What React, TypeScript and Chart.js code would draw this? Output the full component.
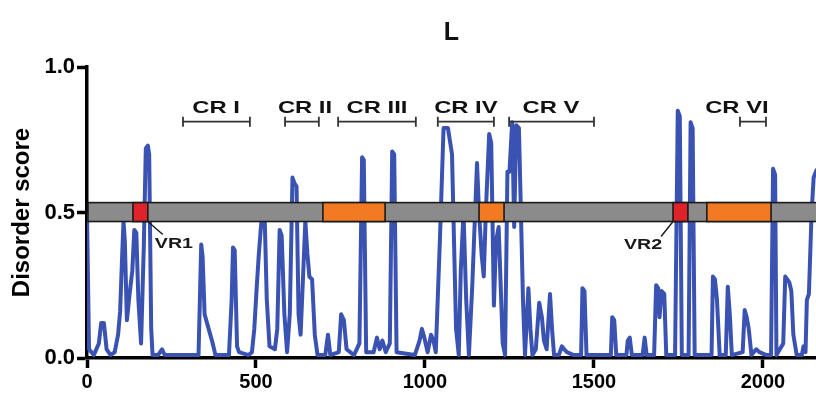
import { useEffect, useRef } from "react";
import { Chart, registerables } from "chart.js";

Chart.register(...registerables);

// ---- data ----
const residuePos = [
  0, 6, 20, 35, 42, 50, 58, 70, 82, 92, 98, 104, 108, 112, 118, 126, 134, 140, 146, 152, 160, 168, 174, 180, 184, 190, 194, 210, 222, 230,
  330, 334, 338, 342, 348, 360, 372, 380, 420, 428, 432, 437, 444, 450, 478, 488, 495, 502, 508, 514, 520, 526, 532, 540, 556, 563, 570, 576, 584, 592,
  600, 608, 614, 620, 626, 632, 640, 646, 652, 658, 666, 674, 682, 705, 713, 720, 745, 752, 760, 768, 790, 806, 814, 819, 826, 848, 858, 866, 874, 884,
  896, 903, 909, 916, 970, 984, 991, 998, 1008, 1018, 1025, 1032, 1044, 1055, 1068, 1080, 1092, 1100, 1106, 1114, 1122, 1130, 1140, 1154, 1160, 1168, 1174, 1180, 1190, 1196,
  1204, 1210, 1218, 1230, 1237, 1244, 1250, 1258, 1264, 1270, 1278, 1290, 1296, 1302, 1306, 1312, 1318, 1328, 1338, 1346, 1352, 1360, 1370, 1376, 1382, 1396, 1405, 1412, 1420, 1440,
  1462, 1466, 1472, 1478, 1550, 1554, 1560, 1566, 1596, 1600, 1606, 1612, 1644, 1650, 1656, 1678, 1684, 1690, 1694, 1700, 1708, 1714, 1740, 1748, 1754, 1760, 1780, 1786, 1792, 1798,
  1848, 1852, 1858, 1864, 1872, 1890, 1896, 1902, 1908, 1940, 1946, 1952, 1958, 1966, 1980, 1990, 2010, 2024, 2030, 2036, 2040, 2060, 2066, 2072, 2078, 2084, 2090, 2100, 2115, 2120,
  2126, 2130, 2136, 2144, 2150, 2160,
];
const disorderScore = [
  0.5, 0.03, 0.01, 0.05, 0.12, 0.12, 0.03, 0.01, 0.02, 0.08, 0.16, 0.35, 0.47, 0.4, 0.13, 0.22, 0.3, 0.44, 0.43, 0.2, 0.05, 0.38, 0.72, 0.73, 0.7, 0.1, 0.01, 0.01, 0.03, 0.01,
  0.01, 0.2, 0.39, 0.35, 0.15, 0.1, 0.05, 0.01, 0.01, 0.2, 0.38, 0.37, 0.04, 0.02, 0.01, 0.02, 0.1, 0.24, 0.35, 0.44, 0.52, 0.47, 0.2, 0.04, 0.03, 0.1, 0.44, 0.42, 0.15, 0.02,
  0.15, 0.62, 0.6, 0.59, 0.15, 0.08, 0.3, 0.47, 0.36, 0.28, 0.27, 0.08, 0.01, 0.01, 0.08, 0.01, 0.02, 0.15, 0.13, 0.03, 0.01, 0.05, 0.69, 0.68, 0.02, 0.02, 0.07, 0.03, 0.06, 0.02,
  0.05, 0.71, 0.7, 0.02, 0.01, 0.06, 0.1, 0.07, 0.02, 0.08, 0.06, 0.02, 0.4, 0.79, 0.79, 0.7, 0.1, 0.01, 0.3, 0.5, 0.2, 0.01, 0.25, 0.67, 0.5, 0.35, 0.28, 0.5, 0.77, 0.74,
  0.18, 0.4, 0.45, 0.05, 0.01, 0.64, 0.64, 0.81, 0.45, 0.8, 0.79, 0.2, 0.01, 0.15, 0.24, 0.1, 0.01, 0.03, 0.19, 0.14, 0.06, 0.03, 0.22, 0.1, 0.01, 0.01, 0.04, 0.03, 0.02, 0.01,
  0.01, 0.24, 0.23, 0.01, 0.01, 0.14, 0.13, 0.01, 0.01, 0.06, 0.07, 0.01, 0.01, 0.07, 0.01, 0.01, 0.25, 0.24, 0.14, 0.23, 0.22, 0.01, 0.01, 0.85, 0.83, 0.01, 0.01, 0.81, 0.79, 0.01,
  0.01, 0.28, 0.27, 0.2, 0.01, 0.01, 0.245, 0.15, 0.01, 0.02, 0.165, 0.14, 0.1, 0.01, 0.03, 0.02, 0.01, 0.01, 0.65, 0.63, 0.01, 0.05, 0.28, 0.27, 0.26, 0.23, 0.08, 0.01, 0.01, 0.04,
  0.02, 0.2, 0.22, 0.5, 0.62, 0.65,
];

const xTickValues = [0, 500, 1000, 1500, 2000];
const yTickValues = [0, 0.5, 1.0];
const xMin = 0;
const xMax = 2157;

// conserved regions (brackets)
const crNames = ["CR I", "CR II", "CR III", "CR IV", "CR V", "CR VI"];
const crStart = [284, 586, 743, 1038, 1249, 1932];
const crEnd = [482, 686, 973, 1204, 1500, 2009];
const crLabelCenter = [382, 645, 858, 1121, 1373, 1923];

// domain bar segments
const domainStart = [136, 698, 1160, 1734, 1834];
const domainEnd = [180, 882, 1234, 1778, 2024];
const domainKind = ["VR", "CR", "CR", "VR", "CR"];
const vrNames = ["VR1", "VR2"];

const barLow = 0.469;
const barHigh = 0.534;

const FONT = "'Liberation Sans', Arial, Helvetica, sans-serif";
const LINE_BLUE = "#3a53b3";
const BAR_GRAY = "#8b8b8b";
const VR_RED = "#e0222b";
const CR_ORANGE = "#f27a22";

function stretchedText(ctx: CanvasRenderingContext2D, text: string, x: number, y: number, sx: number, align: CanvasTextAlign) {
  ctx.save();
  ctx.translate(x, y);
  ctx.scale(sx, 1);
  ctx.textAlign = align;
  ctx.textBaseline = "alphabetic";
  ctx.fillText(text, 0, 0);
  ctx.restore();
}

const overlayPlugin = {
  id: "overlay",
  afterDatasetsDraw(chart: any) {
    const { ctx, chartArea } = chart;
    const xs = chart.scales.x;
    const ys = chart.scales.y;
    const px = (v: number) => xs.getPixelForValue(v);
    const py = (v: number) => ys.getPixelForValue(v);
    ctx.save();

    // domain bar
    const top = py(barHigh);
    const bot = py(barLow);
    const left = chartArea.left + 1;
    const right = chart.width + 4;
    ctx.fillStyle = BAR_GRAY;
    ctx.fillRect(left, top, right - left, bot - top);
    ctx.lineWidth = 1.6;
    ctx.strokeStyle = "#1a1a1a";
    ctx.strokeRect(left, top, right - left, bot - top);
    for (let i = 0; i < domainStart.length; i++) {
      const a = px(domainStart[i]);
      const b = px(domainEnd[i]);
      ctx.fillStyle = domainKind[i] === "VR" ? VR_RED : CR_ORANGE;
      ctx.fillRect(a, top, b - a, bot - top);
      ctx.strokeRect(a, top, b - a, bot - top);
    }

    // VR connectors and labels
    ctx.fillStyle = "#1a1a1a";
    ctx.font = `bold 14px ${FONT}`;
    let vr = 0;
    for (let i = 0; i < domainStart.length; i++) {
      if (domainKind[i] !== "VR") continue;
      ctx.lineWidth = 1.4;
      ctx.strokeStyle = "#1a1a1a";
      ctx.beginPath();
      if (vr === 0) {
        const sx = px(domainEnd[i]);
        ctx.moveTo(sx, bot);
        ctx.lineTo(sx + 15, bot + 13);
        ctx.stroke();
        stretchedText(ctx, vrNames[vr], sx + 7, bot + 26, 1.4, "left");
      } else {
        const sx = px(domainStart[i]);
        ctx.moveTo(sx, bot);
        ctx.lineTo(sx - 12, bot + 15);
        ctx.stroke();
        stretchedText(ctx, vrNames[vr], sx - 11, bot + 27, 1.4, "right");
      }
      vr++;
    }

    // CR brackets
    const by = py(0.812);
    ctx.strokeStyle = "#333";
    ctx.lineWidth = 1.8;
    ctx.fillStyle = "#111";
    ctx.font = `bold 17px ${FONT}`;
    for (let i = 0; i < crNames.length; i++) {
      const a = px(crStart[i]);
      const b = px(crEnd[i]);
      ctx.beginPath();
      ctx.moveTo(a, by);
      ctx.lineTo(b, by);
      ctx.moveTo(a, by - 5);
      ctx.lineTo(a, by + 5);
      ctx.moveTo(b, by - 5);
      ctx.lineTo(b, by + 5);
      ctx.stroke();
      stretchedText(ctx, crNames[i], px(crLabelCenter[i]), by - 9, 1.4, "center");
    }

    // panel title
    ctx.fillStyle = "#111";
    ctx.font = `bold 25px ${FONT}`;
    ctx.textAlign = "center";
    ctx.textBaseline = "alphabetic";
    ctx.fillText("L", chartArea.left + (chart.width - chartArea.left) / 2, 40);

    ctx.restore();
  },
};

export default function App() {
  const canvasRef = useRef<HTMLCanvasElement | null>(null);

  useEffect(() => {
    if (!canvasRef.current) return;
    const points = residuePos.map((x, i) => ({ x, y: disorderScore[i] }));
    const chart = new Chart(canvasRef.current, {
      type: "line",
      data: {
        datasets: [
          {
            label: "Disorder score",
            data: points,
            borderColor: LINE_BLUE,
            borderWidth: 4,
            pointRadius: 0,
            tension: 0,
            fill: false,
            borderJoinStyle: "round",
          },
        ],
      },
      options: {
        animation: false,
        responsive: true,
        maintainAspectRatio: false,
        layout: { padding: { top: 67, right: 0, bottom: 0, left: 0 } },
        plugins: {
          legend: { display: false },
          tooltip: { enabled: false },
          title: { display: false },
        },
        scales: {
          x: {
            type: "linear",
            min: xMin,
            max: xMax,
            afterBuildTicks: (scale: any) => {
              scale.ticks = xTickValues.map((v) => ({ value: v }));
            },
            afterFit: (scale: any) => {
              scale.height = 35;
            },
            ticks: {
              color: "#000",
              font: { family: FONT, size: 20, weight: "bold" },
              padding: 2,
              maxRotation: 0,
              autoSkip: false,
              callback: (v: any) => String(v),
            },
            grid: {
              drawOnChartArea: false,
              drawTicks: true,
              tickLength: 10,
              tickWidth: 3.5,
              tickColor: "#000",
            },
            border: { display: true, color: "#000", width: 3.5 },
          },
          y: {
            type: "linear",
            min: 0,
            max: 1,
            afterBuildTicks: (scale: any) => {
              scale.ticks = yTickValues.map((v) => ({ value: v }));
            },
            afterFit: (scale: any) => {
              scale.width = 87;
            },
            ticks: {
              color: "#000",
              font: { family: FONT, size: 22, weight: "bold" },
              padding: 2,
              callback: (v: any) => Number(v).toFixed(1),
            },
            grid: {
              drawOnChartArea: false,
              drawTicks: true,
              tickLength: 10,
              tickWidth: 3.5,
              tickColor: "#000",
            },
            border: { display: true, color: "#000", width: 3.5 },
            title: {
              display: true,
              text: "Disorder score",
              color: "#000",
              font: { family: FONT, size: 24, weight: "bold" },
              padding: { top: 8, bottom: 0 },
            },
          },
        },
      },
      plugins: [overlayPlugin],
    });
    return () => chart.destroy();
  }, []);

  return (
    <div style={{ position: "fixed", left: 0, top: 0, width: 816, height: 393, background: "#fff" }}>
      <canvas ref={canvasRef} />
    </div>
  );
}
